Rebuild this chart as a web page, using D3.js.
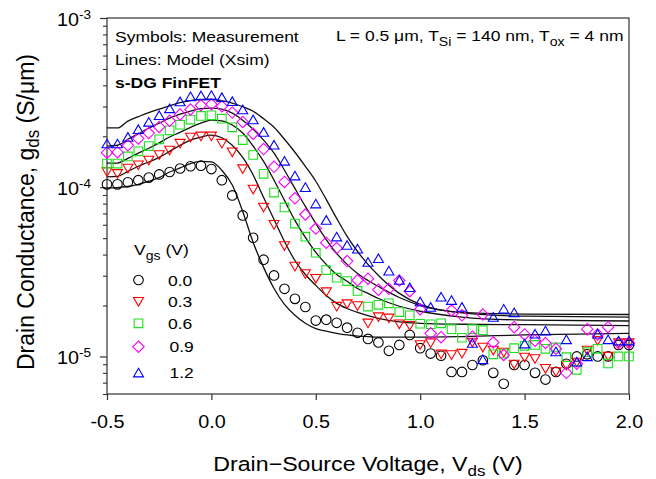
<!DOCTYPE html>
<html>
<head>
<meta charset="utf-8">
<script src="https://cdn.jsdelivr.net/npm/d3@7"></script>
<style>
  body { margin: 0; background: #fff; }
  text { font-family: "Liberation Sans", Arial, sans-serif; fill: #000; }
</style>
</head>
<body>
<div id="chart"></div>
<script>
// measured drain conductance (S/um) vs Vds, one array per Vgs
const vds = [-0.5, -0.45, -0.4, -0.35, -0.3, -0.25, -0.2, -0.15, -0.1, -0.05, 0.0, 0.05, 0.1, 0.15, 0.2, 0.25, 0.3, 0.35, 0.4, 0.45,
  0.5, 0.55, 0.6, 0.65, 0.7, 0.75, 0.8, 0.85, 0.9, 0.95, 1.0, 1.05, 1.1, 1.15, 1.2, 1.25, 1.3, 1.35, 1.4, 1.45,
  1.5, 1.55, 1.6, 1.65, 1.7, 1.75, 1.8, 1.85, 1.9, 1.95, 2.0];

const gds00 = [1.04e-4, 1.04e-4, 1.07e-4, 1.10e-4, 1.14e-4, 1.19e-4, 1.23e-4, 1.29e-4, 1.33e-4, 1.34e-4, 1.28e-4, 1.10e-4, 8.94e-5, 6.81e-5, 5.03e-5, 3.73e-5, 3.01e-5, 2.51e-5, 2.19e-5, 1.96e-5,
  1.63e-5, 1.65e-5, 1.58e-5, 1.48e-5, 1.38e-5, 1.27e-5, 1.21e-5, 1.08e-5, 1.17e-5, 1.34e-5, 1.12e-5, 1.04e-5, 1.01e-5, 8.1e-6, 8.1e-6, 8.9e-6, 9.5e-6, 8.0e-6, 6.9e-6, 8.9e-6,
  8.9e-6, 8.0e-6, 7.3e-6, 8.1e-6, 9.05e-6, 1.0e-5, 1.03e-5, 1.0e-5, 1.0e-5, 1.17e-5, 1.17e-5];
const gds03 = [1.23e-4, 1.20e-4, 1.29e-4, 1.35e-4, 1.44e-4, 1.55e-4, 1.65e-4, 1.81e-4, 1.97e-4, 2.0e-4, 2.0e-4, 1.81e-4, 1.61e-4, 1.28e-4, 9.7e-5, 7.6e-5, 6.0e-5, 4.5e-5, 3.4e-5, 3.07e-5,
  2.88e-5, 2.40e-5, 1.97e-5, 2.04e-5, 1.99e-5, 1.57e-5, 1.71e-5, 1.68e-5, 1.55e-5, 1.52e-5, 1.17e-5, 1.20e-5, 1.03e-5, 1.02e-5, 1.04e-5, 1.21e-5, 1.13e-5, 1.085e-5, 1.055e-5, 8.97e-6,
  9.86e-6, 9.67e-6, 8.46e-6, 8.1e-6, 8.85e-6, 9.22e-6, 1.085e-5, 1.24e-5, 1.0e-5, 1.20e-5, 1.20e-5];
const gds06 = [1.38e-4, 1.38e-4, 1.52e-4, 1.63e-4, 1.75e-4, 1.92e-4, 2.17e-4, 2.34e-4, 2.51e-4, 2.64e-4, 2.66e-4, 2.54e-4, 2.26e-4, 1.90e-4, 1.55e-4, 1.20e-4, 9.3e-5, 7.6e-5, 6.1e-5, 5.1e-5,
  4.1e-5, 3.24e-5, 2.92e-5, 2.79e-5, 2.44e-5, 1.97e-5, 2.02e-5, 2.06e-5, 1.83e-5, 1.75e-5, 1.56e-5, 1.55e-5, 1.57e-5, 1.45e-5, 1.29e-5, 1.45e-5, 1.43e-5, 1.03e-5, 1.04e-5, 1.12e-5,
  1.155e-5, 1.17e-5, 1.11e-5, 1.13e-5, 9.9e-6, 8.34e-6, 1.06e-5, 1.11e-5, 9.1e-6, 1.0e-5, 1.0e-5];
const gds09 = [1.60e-4, 1.61e-4, 1.77e-4, 1.94e-4, 2.09e-4, 2.27e-4, 2.47e-4, 2.69e-4, 2.88e-4, 3.05e-4, 3.09e-4, 3.01e-4, 2.76e-4, 2.43e-4, 2.07e-4, 1.68e-4, 1.32e-4, 1.075e-4, 8.6e-5, 6.9e-5,
  5.7e-5, 4.7e-5, 4.37e-5, 3.66e-5, 2.82e-5, 2.88e-5, 2.48e-5, 2.51e-5, 2.81e-5, 2.43e-5, 1.90e-5, 1.37e-5, 1.30e-5, 1.87e-5, 1.75e-5, 1.31e-5, 1.77e-5, 1.21e-5, 1.02e-5, 1.49e-5,
  1.35e-5, 1.24e-5, 1.20e-5, 1.11e-5, 8.0e-6, 9.05e-6, 1.45e-5, 1.35e-5, 1.49e-5, 1.20e-5, 1.20e-5];
const gds12 = [1.81e-4, 1.81e-4, 1.98e-4, 2.20e-4, 2.43e-4, 2.66e-4, 2.92e-4, 3.21e-4, 3.44e-4, 3.48e-4, 3.50e-4, 3.40e-4, 3.22e-4, 2.88e-4, 2.51e-4, 2.12e-4, 1.78e-4, 1.43e-4, 1.17e-4, 1.0e-4,
  8.0e-5, 6.4e-5, 5.1e-5, 4.55e-5, 4.33e-5, 3.61e-5, 3.80e-5, 3.21e-5, 2.83e-5, 2.56e-5, 2.11e-5, 1.96e-5, 2.25e-5, 2.15e-5, 1.96e-5, 1.20e-5, 9.6e-6, 1.71e-5, 1.91e-5, 1.82e-5,
  1.19e-5, 1.36e-5, 1.42e-5, 1.07e-5, 1.26e-5, 9.3e-6, 1.0e-5, 1.36e-5, 1.26e-5, 1.24e-5, 1.24e-5];

// model (Xsim) curves
const modelVds = [-0.5, -0.45, -0.4, -0.35, -0.3, -0.25, -0.2, -0.15, -0.1, -0.05, 0.0, 0.05, 0.1, 0.15, 0.2, 0.25,
  0.3, 0.35, 0.4, 0.45, 0.5, 0.55, 0.6, 0.65, 0.7, 0.75, 0.8, 0.9, 1.0, 1.2, 1.5, 2.0];
const model00 = [9.9e-5, 9.95e-5, 1.01e-4, 1.04e-4, 1.085e-4, 1.14e-4, 1.23e-4, 1.30e-4, 1.38e-4, 1.42e-4, 1.41e-4, 1.26e-4, 1.03e-4, 7.19e-5, 4.72e-5, 3.36e-5,
  2.52e-5, 2.03e-5, 1.75e-5, 1.57e-5, 1.46e-5, 1.41e-5, 1.37e-5, 1.34e-5, 1.32e-5, 1.31e-5, 1.30e-5, 1.30e-5, 1.30e-5, 1.31e-5, 1.34e-5, 1.37e-5];
const model03 = [1.15e-4, 1.16e-4, 1.24e-4, 1.33e-4, 1.41e-4, 1.50e-4, 1.63e-4, 1.77e-4, 1.90e-4, 1.98e-4, 2.03e-4, 1.96e-4, 1.77e-4, 1.50e-4, 1.18e-4, 8.70e-5,
  6.45e-5, 4.78e-5, 3.69e-5, 3.05e-5, 2.63e-5, 2.29e-5, 2.06e-5, 1.92e-5, 1.82e-5, 1.74e-5, 1.68e-5, 1.60e-5, 1.57e-5, 1.55e-5, 1.54e-5, 1.52e-5];
const model06 = [1.39e-4, 1.39e-4, 1.48e-4, 1.59e-4, 1.70e-4, 1.83e-4, 1.98e-4, 2.11e-4, 2.26e-4, 2.39e-4, 2.49e-4, 2.47e-4, 2.33e-4, 2.09e-4, 1.75e-4, 1.42e-4,
  1.10e-4, 8.36e-5, 6.37e-5, 5.05e-5, 4.12e-5, 3.50e-5, 3.05e-5, 2.78e-5, 2.52e-5, 2.36e-5, 2.20e-5, 1.98e-5, 1.85e-5, 1.71e-5, 1.64e-5, 1.62e-5];
const model09 = [1.75e-4, 1.77e-4, 1.92e-4, 2.07e-4, 2.23e-4, 2.39e-4, 2.56e-4, 2.70e-4, 2.82e-4, 2.91e-4, 2.93e-4, 2.89e-4, 2.74e-4, 2.49e-4, 2.20e-4, 1.90e-4,
  1.59e-4, 1.26e-4, 9.84e-5, 7.70e-5, 6.11e-5, 4.91e-5, 4.06e-5, 3.50e-5, 3.09e-5, 2.81e-5, 2.59e-5, 2.23e-5, 2.00e-5, 1.81e-5, 1.73e-5, 1.71e-5];
const model12 = [2.24e-4, 2.24e-4, 2.46e-4, 2.61e-4, 2.76e-4, 2.89e-4, 3.03e-4, 3.16e-4, 3.25e-4, 3.30e-4, 3.30e-4, 3.25e-4, 3.14e-4, 2.99e-4, 2.81e-4, 2.54e-4,
  2.26e-4, 1.92e-4, 1.61e-4, 1.33e-4, 1.085e-4, 8.47e-5, 6.54e-5, 5.12e-5, 4.17e-5, 3.50e-5, 3.01e-5, 2.36e-5, 2.03e-5, 1.82e-5, 1.78e-5, 1.77e-5];

const vgsLabels = ['0.0', '0.3', '0.6', '0.9', '1.2'];
const xTicks = [-0.5, 0.0, 0.5, 1.0, 1.5, 2.0];
const yMajor = [1e-5, 1e-4, 1e-3];
const yMajorExp = ['-5', '-4', '-3'];
const yMinor = [6e-6, 7e-6, 8e-6, 9e-6, 2e-5, 3e-5, 4e-5, 5e-5, 6e-5, 7e-5, 8e-5, 9e-5, 2e-4, 3e-4, 4e-4, 5e-4, 6e-4, 7e-4, 8e-4, 9e-4];

const measured = [gds00, gds03, gds06, gds09, gds12];
const models = [model00, model03, model06, model09, model12];

// the figure is slightly wider than tall, text is stretched horizontally to match
const SX = 1.13;
const width = 656, height = 479;
const margin = {top: 18, right: 27, bottom: 85, left: 107};

const svg = d3.select('#chart').append('svg')
  .attr('width', width)
  .attr('height', height);

const x = d3.scaleLinear().domain([-0.5, 2.0]).range([margin.left, width - margin.right]);
const y = d3.scaleLog().domain([6e-6, 1e-3]).range([height - margin.bottom, margin.top]);

const markerPaths = [
  'M0,-4.8A4.8,4.8 0 1,1 0,4.8A4.8,4.8 0 1,1 0,-4.8Z',
  'M0,4.4L5,-4.2L-5,-4.2Z',
  'M-4.3,-4.3H4.3V4.3H-4.3Z',
  'M0,-5.7L5.7,0L0,5.7L-5.7,0Z',
  'M0,-4.4L5,4.2L-5,4.2Z'
];
const colors = ['#000000', '#ff0000', '#1fe01f', '#ff00ff', '#0000ff'];

function addText(parent, px, py, size, anchor) {
  return parent.append('text')
    .attr('transform', `translate(${px},${py}) scale(${SX},1)`)
    .attr('text-anchor', anchor)
    .style('font-size', size + 'px');
}

// axes
const xAxis = svg.append('g')
  .attr('transform', `translate(0,${height - margin.bottom})`)
  .call(d3.axisBottom(x).tickValues(xTicks).tickSize(6).tickSizeOuter(0).tickFormat(d => d.toFixed(1)));
xAxis.select('.domain').remove();
xAxis.selectAll('line').attr('stroke', '#333').attr('stroke-width', 1.2);
xAxis.selectAll('text')
  .attr('y', 34.5).attr('dy', null)
  .attr('transform', `scale(${SX},1)`)
  .style('font-size', '17.5px')
  .style('font-family', '"Liberation Sans", Arial, sans-serif')
  .attr('fill', '#000');

const yAxisMinor = svg.append('g')
  .attr('transform', `translate(${margin.left},0)`)
  .call(d3.axisLeft(y).tickValues(yMinor).tickSize(4).tickSizeOuter(0).tickFormat(''));
yAxisMinor.select('.domain').remove();
yAxisMinor.selectAll('line').attr('stroke', '#333').attr('stroke-width', 1.1);

const yAxisMajor = svg.append('g')
  .attr('transform', `translate(${margin.left},0)`)
  .call(d3.axisLeft(y).tickValues(yMajor).tickSize(7).tickSizeOuter(0).tickFormat(''));
yAxisMajor.select('.domain').remove();
yAxisMajor.selectAll('line').attr('stroke', '#333').attr('stroke-width', 1.2);

yMajor.forEach((v, i) => {
  const t = addText(svg, 91, y(v) + 8, 17.5, 'end');
  t.append('tspan').text('10');
  t.append('tspan').attr('dy', -7).style('font-size', '12px').text(yMajorExp[i]);
});

// frame
svg.append('rect')
  .attr('x', margin.left)
  .attr('y', margin.top)
  .attr('width', width - margin.left - margin.right)
  .attr('height', height - margin.top - margin.bottom)
  .attr('fill', 'none')
  .attr('stroke', '#333')
  .attr('stroke-width', 1.2);

// model lines
const line = d3.line()
  .x(d => x(d[0]))
  .y(d => y(d[1]))
  .curve(d3.curveMonotoneX);

svg.append('g').selectAll('path')
  .data(models)
  .join('path')
  .attr('d', m => line(modelVds.map((v, i) => [v, m[i]])))
  .attr('fill', 'none')
  .attr('stroke', '#111')
  .attr('stroke-width', 1.3);

// measurement symbols
measured.forEach((series, k) => {
  svg.append('g').selectAll('path')
    .data(series.map((g, i) => [vds[i], g]))
    .join('path')
    .attr('transform', d => `translate(${x(d[0])},${y(d[1])})`)
    .attr('d', markerPaths[k])
    .attr('fill', 'none')
    .attr('stroke', colors[k])
    .attr('stroke-width', 1.1);
});

// annotations
addText(svg, 115, 41.5, 15.5, 'start').text('Symbols: Measurement');
addText(svg, 115, 64.8, 15.5, 'start').text('Lines: Model (Xsim)');
addText(svg, 115, 88, 15.5, 'start').style('font-weight', 'bold').text('s-DG FinFET');

const param = addText(svg, 623.5, 41, 15.5, 'end');
param.append('tspan').text('L = 0.5 \u03bcm, T');
param.append('tspan').attr('dy', 4.5).style('font-size', '12.5px').text('Si');
param.append('tspan').attr('dy', -4.5).text(' = 140 nm, T');
param.append('tspan').attr('dy', 4.5).style('font-size', '12.5px').text('ox');
param.append('tspan').attr('dy', -4.5).text(' = 4 nm');

// legend
const legend = svg.append('g').attr('class', 'legend');
const legTitle = addText(legend, 134, 255, 15.5, 'start');
legTitle.append('tspan').text('V');
legTitle.append('tspan').attr('dy', 4.5).style('font-size', '12.5px').text('gs');
legTitle.append('tspan').attr('dy', -4.5).text(' (V)');

const legendY = [280, 301.7, 323.3, 346.7, 372.7];
vgsLabels.forEach((lab, k) => {
  legend.append('path')
    .attr('transform', `translate(138.5,${legendY[k]})`)
    .attr('d', markerPaths[k])
    .attr('fill', 'none')
    .attr('stroke', colors[k])
    .attr('stroke-width', 1.1);
  addText(legend, k < 3 ? 168 : 169.5, legendY[k] + 5.6, 15.5, 'start').text(lab);
});

// axis titles
const xTitle = addText(svg, 368, 470.5, 20.5, 'middle');
xTitle.append('tspan').text('Drain\u2212Source Voltage, V');
xTitle.append('tspan').attr('dy', 5).style('font-size', '15px').text('ds');
xTitle.append('tspan').attr('dy', -5).text(' (V)');

const yTitle = svg.append('text')
  .attr('transform', 'translate(33.5,212) rotate(-90) scale(1,1.07)')
  .attr('text-anchor', 'middle')
  .style('font-size', '23px');
yTitle.append('tspan').text('Drain Conductance, g');
yTitle.append('tspan').attr('dy', 5).style('font-size', '17px').text('ds');
yTitle.append('tspan').attr('dy', -5).text(' (S/\u03bcm)');
</script>
</body>
</html>
